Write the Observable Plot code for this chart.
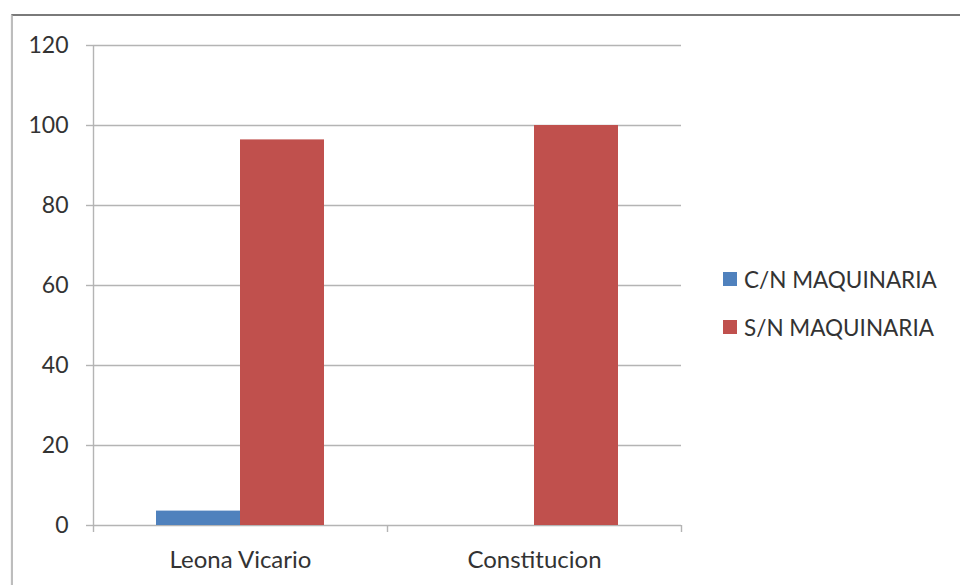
<!DOCTYPE html>
<html>
<head>
<meta charset="utf-8">
<script src="https://cdn.jsdelivr.net/npm/d3@7"></script>
<script src="https://cdn.jsdelivr.net/npm/@observablehq/plot@0.6"></script>
<style>
  html, body { margin: 0; padding: 0; background: #fff; }
  #wrap { position: relative; width: 960px; height: 585px; overflow: hidden; font-family: Lato, "Open Sans", sans-serif; }
  #frame { position: absolute; left: 11px; top: 14px; right: -4px; bottom: -4px;
           border-top: 2px solid #7a7a7a; border-left: 2px solid #bdbdbd; box-shadow: 0 1px 1px #c8c8c8; }
  #chart { position: absolute; left: 0; top: 0; }
  #legend { position: absolute; left: 723px; top: 255px; color: #333; font-size: 22.5px; }
  .item { display: flex; align-items: center; height: 48px; }
  .swatch { width: 14px; height: 14px; margin-right: 7px; }
</style>
</head>
<body>
<div id="wrap">
  <div id="frame"></div>
  <div id="chart"></div>
  <div id="legend"></div>
</div>
<script>
// Share of units with / without machinery per locality (%)
const categories = ["Leona Vicario", "Constitucion"];
const series = ["C/N MAQUINARIA", "S/N MAQUINARIA"];
const cnMaquinaria = [3.6, 0];
const snMaquinaria = [96.4, 100];
const yTicks = [0, 20, 40, 60, 80, 100, 120];
const colors = ["#4F81BD", "#C0504D"];

const seriesValues = [cnMaquinaria, snMaquinaria];

// Clustered columns: each category spans one unit on x; the gap between
// clusters is 150% of a column's width.
const gap = 1.5;
const colWidth = 1 / (series.length + gap);
const rows = categories.flatMap((category, i) =>
  series.map((s, j) => {
    const x1 = i + (gap * colWidth) / 2 + j * colWidth;
    return { category, series: s, value: seriesValues[j][i], x1, x2: x1 + colWidth };
  })
);

const axisGray = "#b4b4b4";
const textGray = "#333";

const chart = Plot.plot({
  width: 960,
  height: 585,
  marginLeft: 93,
  marginRight: 279,
  marginTop: 45,
  marginBottom: 60,
  style: { fontFamily: "Lato, 'Open Sans', sans-serif", background: "transparent", overflow: "visible" },
  x: { domain: [0, categories.length], axis: null },
  y: { domain: [0, 120], axis: null },
  color: { domain: series, range: colors },
  marks: [
    Plot.gridY(yTicks, { stroke: axisGray, strokeOpacity: 1, strokeWidth: 1.4 }),
    Plot.ruleX([0], { y1: 0, y2: 120, stroke: axisGray, strokeWidth: 1.4 }),
    Plot.rect(rows.filter(d => d.value > 0), {
      x1: "x1", x2: "x2", y1: 0, y2: "value", fill: "series"
    }),
    Plot.axisY(yTicks, {
      tickSize: 7, tickPadding: 18, stroke: axisGray, strokeWidth: 1.4,
      fill: textGray, fontSize: 23, label: null
    }),
    Plot.axisX(d3.range(categories.length + 1), {
      tickSize: 7, tickFormat: () => "", stroke: axisGray, strokeWidth: 1.4, label: null
    }),
    Plot.axisX(categories.map((c, i) => i + 0.5), {
      tickSize: 0, tickPadding: 25, tickFormat: d => categories[Math.floor(d)],
      fill: textGray, fontSize: 24, label: null
    })
  ]
});
document.getElementById("chart").appendChild(chart);

const legend = document.getElementById("legend");
series.forEach((s, j) => {
  const item = document.createElement("div");
  item.className = "item";
  const sw = document.createElement("span");
  sw.className = "swatch";
  sw.style.background = colors[j];
  const label = document.createElement("span");
  label.textContent = s;
  item.appendChild(sw);
  item.appendChild(label);
  legend.appendChild(item);
});
</script>
</body>
</html>
